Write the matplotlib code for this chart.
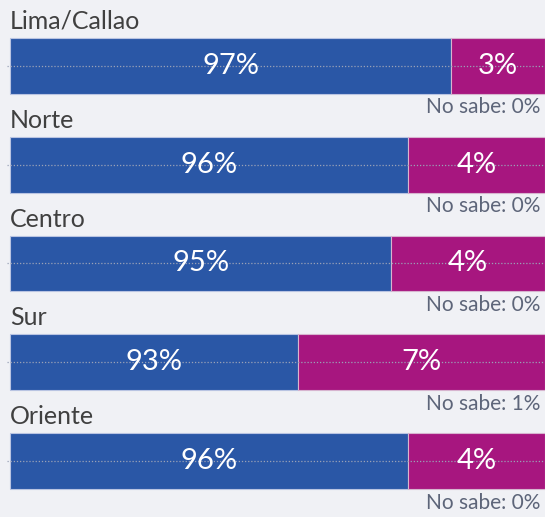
import matplotlib.pyplot as plt

# data
regions = ['Lima/Callao', 'Norte', 'Centro', 'Sur', 'Oriente']
si_pos = [97.2, 95.9, 95.4, 92.6, 95.9]      # blue segment end (axis units)
si_lbl = [97, 96, 95, 93, 96]
no_lbl = [3, 4, 4, 7, 4]
nosabe = [0, 0, 0, 1, 0]

blue = '#2a57a6'
magenta = '#a7167f'
bg = '#f0f1f5'

plt.rcParams['font.family'] = ['Lato', 'DejaVu Sans']

fig = plt.figure(figsize=(5.45, 5.17), dpi=100, facecolor=bg)
ax = fig.add_axes([0, 0, 1, 1])
ax.set_facecolor(bg)

x0 = 84
ys = list(range(len(regions)))
h = 0.566

ax.barh(ys, [v - x0 for v in si_pos], left=x0, height=h, color=blue,
        edgecolor='#b9c4e2', linewidth=0.8, zorder=2)
ax.barh(ys, [100 - v for v in si_pos], left=si_pos, height=h, color=magenta,
        edgecolor='#d7b4cf', linewidth=0.8, zorder=2)

for i, y in enumerate(ys):
    ax.plot([x0 - 0.09, 100], [y, y], linestyle=(0, (1, 1.5)), color='#9aa2b6',
            linewidth=0.9, zorder=3)
    ax.text((x0 + si_pos[i]) / 2, y, f'{si_lbl[i]}%', color='white',
            ha='center', va='center', fontsize=21, zorder=4)
    ax.text((si_pos[i] + 100) / 2, y, f'{no_lbl[i]}%', color='white',
            ha='center', va='center', fontsize=21, zorder=4)
    ax.text(x0, y - 0.45, regions[i], color='#404040', ha='left',
            va='center', fontsize=18)
    ax.text(99.85, y + 0.42, f'No sabe: {nosabe[i]}%', color='#5d6579',
            ha='right', va='center', fontsize=15)

ax.set_xlim(x0 - 10 / 535 * (100 - x0), 100)
ax.set_ylim(4 + 56 / 99, -66 / 99)
ax.axis('off')

fig.savefig('out.png', dpi=100, facecolor=bg)
